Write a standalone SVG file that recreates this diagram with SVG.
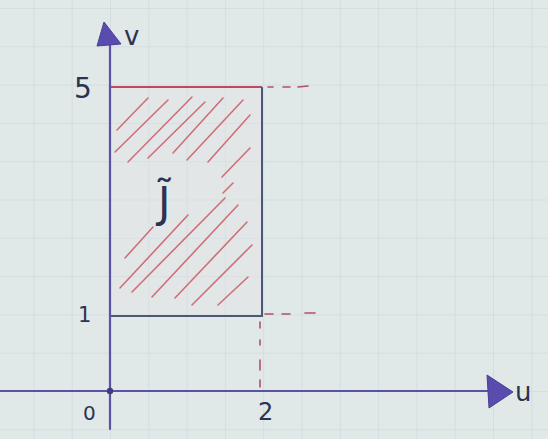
<svg xmlns="http://www.w3.org/2000/svg" width="548" height="439" viewBox="0 0 548 439">
<defs>
<style>
.grid{stroke:#c8d6dc;stroke-width:1.1}
.axis{stroke:#5b52a8;stroke-width:2.2;fill:none;stroke-linecap:round}
.head{fill:#5a4cae;stroke:#4a3f96;stroke-width:1;stroke-linejoin:round}
.edgeR{stroke:#c0485e;stroke-width:2;fill:none}
.edgeB{stroke:#4c5878;stroke-width:2;fill:none}
.hatch{stroke:#cf6f78;stroke-width:1.6;stroke-linecap:round;fill:none}
.dash{stroke:#b0506a;stroke-width:1.6;stroke-linecap:round;fill:none}
.lbl{font-family:"DejaVu Sans","Liberation Sans",sans-serif;fill:#2c3352}
</style>
<pattern id="gp" x="110" y="8" width="38.3" height="38.3" patternUnits="userSpaceOnUse">
<line class="grid" x1="0" y1="0" x2="38.3" y2="0"/>
<line class="grid" x1="0" y1="0" x2="0" y2="38.3"/>
</pattern>
</defs>
<rect width="548" height="439" fill="#e0e8e8"/>
<rect width="548" height="439" fill="url(#gp)"/>

<g id="region">
<rect x="110" y="87" width="152" height="229" fill="#e6e3e6" opacity="0.35"/>
<g id="hatching">
<line class="hatch" x1="117" y1="130" x2="148" y2="98"/>
<line class="hatch" x1="115" y1="152" x2="168" y2="100"/>
<line class="hatch" x1="128" y1="162" x2="192" y2="97"/>
<line class="hatch" x1="148" y1="158" x2="205" y2="102"/>
<line class="hatch" x1="173" y1="153" x2="223" y2="98"/>
<line class="hatch" x1="187" y1="160" x2="243" y2="100"/>
<line class="hatch" x1="208" y1="162" x2="250" y2="115"/>
<line class="hatch" x1="222" y1="177" x2="250" y2="148"/>
<line class="hatch" x1="223" y1="193" x2="233" y2="183"/>
<line class="hatch" x1="125" y1="258" x2="153" y2="227"/>
<line class="hatch" x1="120" y1="288" x2="188" y2="215"/>
<line class="hatch" x1="132" y1="292" x2="225" y2="198"/>
<line class="hatch" x1="152" y1="297" x2="238" y2="205"/>
<line class="hatch" x1="175" y1="298" x2="247" y2="222"/>
<line class="hatch" x1="192" y1="305" x2="252" y2="245"/>
<line class="hatch" x1="218" y1="305" x2="248" y2="277"/>
</g>
<path class="edgeR" d="M110,316 L110,87 L262,87"/>
<path class="edgeB" d="M262,87 L262,316 L110,316"/>
<text class="lbl" x="158" y="217" font-size="42">J̃</text>
</g>

<g id="connectors">
<line class="axis" x1="110" y1="44" x2="110" y2="429"/>
<line class="axis" x1="0" y1="391" x2="488" y2="391"/>
<polygon class="head" points="104,22 97,46 121,44"/>
<polygon class="head" points="513,392 487,375 489,408"/>
<circle cx="110" cy="391" r="3.2" fill="#3c3f7a"/>
<g id="guides">
<line class="dash" x1="268" y1="87" x2="273" y2="87"/>
<line class="dash" x1="283" y1="87" x2="290" y2="87"/>
<line class="dash" x1="298" y1="87" x2="308" y2="86"/>
<line class="dash" x1="265" y1="314" x2="273" y2="314"/>
<line class="dash" x1="282" y1="314" x2="290" y2="314"/>
<line class="dash" x1="305" y1="313" x2="315" y2="313"/>
<line class="dash" x1="260" y1="322" x2="260" y2="328"/>
<line class="dash" x1="260" y1="340" x2="260" y2="345"/>
<line class="dash" x1="260" y1="360" x2="260" y2="370"/>
<line class="dash" x1="260" y1="380" x2="260" y2="387"/>
</g>
</g>

<g id="labels">
<text class="lbl" x="124" y="45" font-size="26">v</text>
<text class="lbl" x="515" y="401" font-size="26">u</text>
<text class="lbl" x="74" y="98" font-size="28">5</text>
<text class="lbl" x="78" y="322" font-size="21">1</text>
<text class="lbl" x="83" y="420" font-size="20">0</text>
<text class="lbl" x="258" y="420" font-size="24">2</text>
</g>
</svg>
